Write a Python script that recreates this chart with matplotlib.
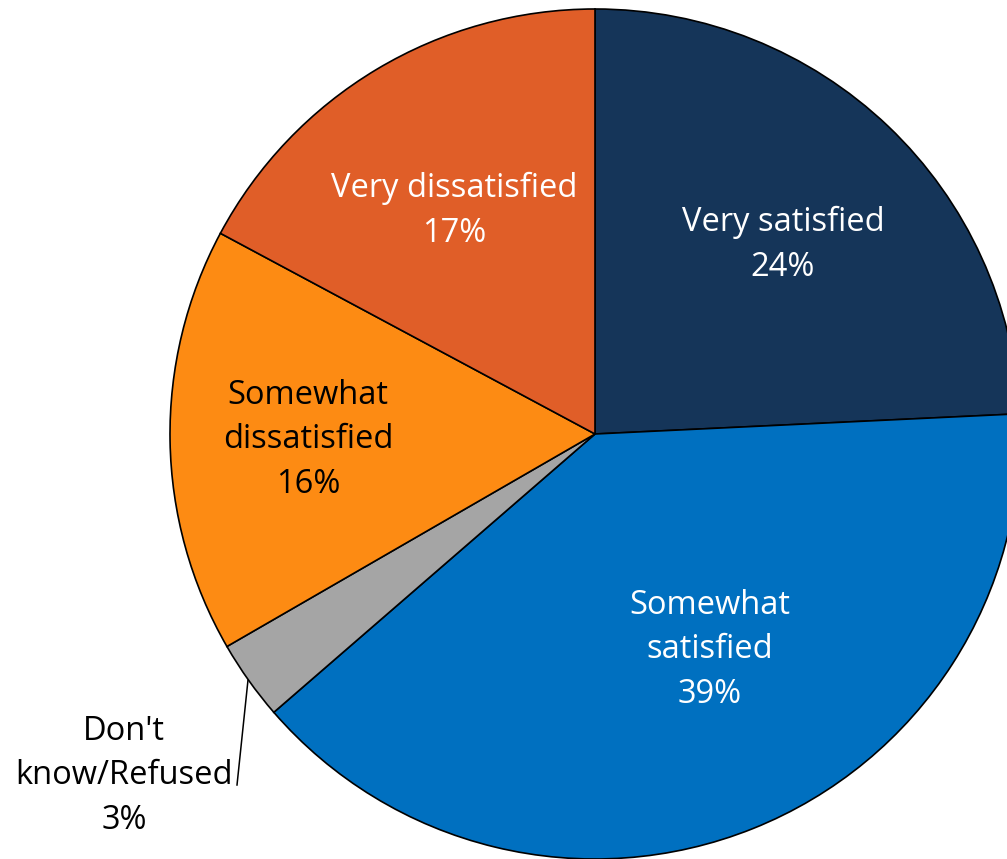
import matplotlib
matplotlib.use("Agg")
import matplotlib.pyplot as plt

categories = ["Very satisfied", "Somewhat satisfied", "Don't know/Refused",
              "Somewhat dissatisfied", "Very dissatisfied"]
values = [24, 39, 3, 16, 17]
label_texts = ["Very satisfied\n24%", "Somewhat\nsatisfied\n39%", "Don't\nknow/Refused\n3%",
               "Somewhat\ndissatisfied\n16%", "Very dissatisfied\n17%"]
colors = ["#153559", "#0070C0", "#A5A5A5", "#FD8B13", "#E05E28"]
text_colors = ["white", "white", "black", "black", "white"]

W, H = 1007, 859
fig = plt.figure(figsize=(W / 100, H / 100), dpi=100)
ax = fig.add_axes([0, 0, 1, 1])
cx, cy, r = 595, H - 434, 425
wedges, _ = ax.pie(values, colors=colors, startangle=90, counterclock=False,
                   center=(cx, cy), radius=r, frame=True,
                   wedgeprops=dict(edgecolor="black", linewidth=1.2))
ax.set_xlim(0, W)
ax.set_ylim(0, H)
ax.set_aspect("equal")
ax.axis("off")

# label positions in pixel space (x, y from top)
pos = [(783, 245), (710, 650), (124, 776), (308, 440), (454, 211)]
for (x, y), t, c in zip(pos, label_texts, text_colors):
    ax.text(x, H - y, t, ha="center", va="center", color=c, fontsize=23.5,
            family="Open Sans", linespacing=1.45)

ax.plot([248, 237], [H - 680, H - 785], color="black", lw=1.1)

fig.savefig("out.png", dpi=100)
